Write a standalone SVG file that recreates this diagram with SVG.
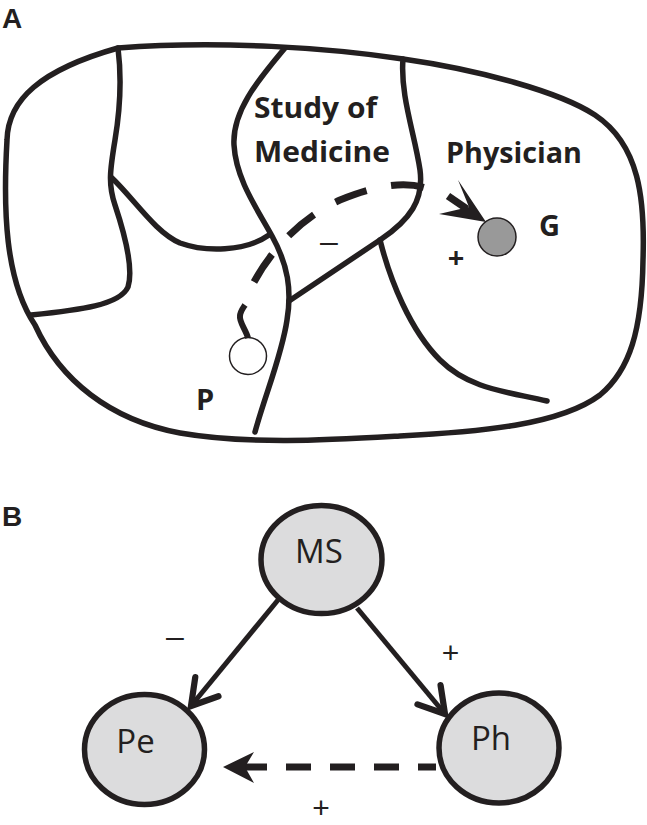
<svg xmlns="http://www.w3.org/2000/svg" width="647" height="825" viewBox="0 0 647 825">
<defs>
<style>
.ln{fill:none;stroke:#231f20;stroke-width:5.5;stroke-linecap:round;stroke-linejoin:round}
.bold{font-family:"Open Sans","Liberation Sans",sans-serif;font-weight:700;font-size:29px;fill:#231f20}
.reg{font-family:"Open Sans","Liberation Sans",sans-serif;font-weight:400;font-size:33px;fill:#231f20}
.dash{font-family:"Liberation Sans",Arial,sans-serif;font-weight:400;font-size:32px;fill:#231f20}
.plus{font-family:"Liberation Sans",Arial,sans-serif;font-weight:400;font-size:30px;fill:#231f20}
.panel{font-family:"Liberation Sans",Arial,sans-serif;font-weight:700;font-size:28px;fill:#231f20}
.node{fill:#dcdcdd;stroke:#231f20;stroke-width:5.5}
.edge{fill:none;stroke:#231f20;stroke-width:5}
</style>
<marker id="chev" markerUnits="userSpaceOnUse" markerWidth="40" markerHeight="40" viewBox="-25 -16 30 32" refX="0" refY="0" orient="auto">
<path d="M -20,-12 L 0,0 L -20,12" fill="none" stroke="#231f20" stroke-width="5" stroke-linecap="round" stroke-linejoin="miter"/>
</marker>
</defs>
<rect width="647" height="825" fill="#ffffff"/>

<!-- Panel A -->
<text class="panel" x="2" y="28">A</text>
<g id="map">
<path class="ln" d="M 118,48 C 220,40 330,48 403,59 C 480,70 560,92 595,115 C 640,145 645,200 643,260 C 642,330 630,370 600,395 C 560,425 480,432 400,436 C 330,440 250,445 180,433 C 110,420 60,380 35,325 C 5,280 3,210 7,140 C 8,100 40,70 118,48 Z"/>
<path class="ln" d="M 118,48 C 122,80 120,110 115,140 C 110,170 108,185 115,205 C 125,235 134,268 128,287 C 120,305 80,310 31,315"/>
<path class="ln" d="M 112,178 C 135,200 155,232 180,243 C 205,252 245,252 269,235"/>
<path class="ln" d="M 285,48 C 260,78 232,110 234,145 C 236,180 258,210 272,236 C 288,265 292,290 287,320 C 282,355 265,395 255,432"/>
<path class="ln" d="M 403,59 C 400,95 415,135 420,170 C 424,200 410,220 380,240 L 289,301"/>
<path class="ln" d="M 380,240 C 390,280 410,330 440,360 C 470,390 510,392 547,401"/>
</g>
<text class="bold" x="254" y="118" textLength="123" lengthAdjust="spacingAndGlyphs">Study of</text>
<text class="bold" x="254" y="162" textLength="136" lengthAdjust="spacingAndGlyphs">Medicine</text>
<text class="bold" x="446" y="163" textLength="136" lengthAdjust="spacingAndGlyphs">Physician</text>
<g id="node-P">
<circle cx="248" cy="356" r="18.5" fill="#ffffff" stroke="#231f20" stroke-width="1.5"/>
<text class="bold" x="196" y="410">P</text>
</g>
<g id="node-G">
<circle cx="497" cy="237" r="19" fill="#999999" stroke="#231f20" stroke-width="1.5"/>
<text class="bold" x="539" y="236">G</text>
</g>
<g id="connectors-A">
<path d="M 248,338 C 246,330 239,322 240,316 C 240,312 243,308 245,305" fill="none" stroke="#231f20" stroke-width="6"/>
<path d="M 254,282 C 270,252 300,218 340,200 C 370,188 400,180 426,188" fill="none" stroke="#231f20" stroke-width="7" stroke-dasharray="33 25"/>
<path d="M 448,196 L 467,209" fill="none" stroke="#231f20" stroke-width="7.5"/>
<polygon points="486,222 458,180 469,207 439,214" fill="#231f20"/>
</g>
<text class="dash" x="329" y="252" text-anchor="middle">–</text>
<text class="bold" x="456" y="268" text-anchor="middle">+</text>

<!-- Panel B -->
<text class="panel" x="2" y="526">B</text>
<g id="connectors-B">
<line class="edge" x1="278" y1="600" x2="191" y2="706" marker-end="url(#chev)"/>
<line class="edge" x1="357" y1="608" x2="445" y2="714" marker-end="url(#chev)"/>
<path d="M 436,767 L 245,767" fill="none" stroke="#231f20" stroke-width="7" stroke-dasharray="18 19 25 19 25 19 25 19 22"/>
<polygon points="223,767 254,752 245,767 254,783" fill="#231f20"/>
</g>
<g id="node-MS">
<ellipse class="node" cx="321.5" cy="559.5" rx="60.5" ry="54"/>
<text class="reg" x="319" y="563" text-anchor="middle">MS</text>
</g>
<g id="node-Pe">
<ellipse class="node" cx="144.5" cy="749.5" rx="60" ry="55"/>
<text class="reg" x="135.5" y="753" text-anchor="middle">Pe</text>
</g>
<g id="node-Ph">
<ellipse class="node" cx="499" cy="748" rx="60" ry="55"/>
<text class="reg" x="491" y="750" text-anchor="middle">Ph</text>
</g>
<text class="dash" x="175" y="647" text-anchor="middle">–</text>
<text class="plus" x="450.5" y="663" text-anchor="middle">+</text>
<text class="plus" x="321" y="818" text-anchor="middle">+</text>
</svg>
